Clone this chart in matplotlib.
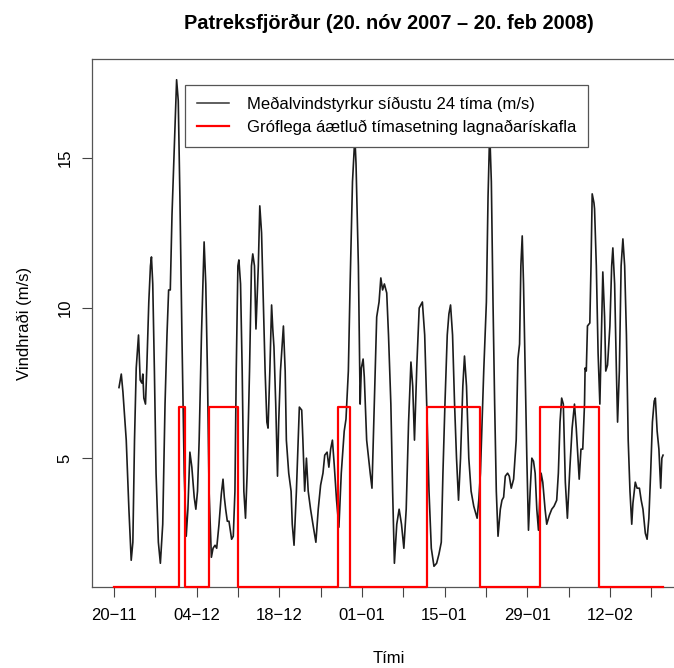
import numpy as np
import matplotlib
matplotlib.use("Agg")
import matplotlib.pyplot as plt
import matplotlib.dates as mdates
from matplotlib.lines import Line2D

plt.rcParams['font.family'] = ['Liberation Sans', 'DejaVu Sans']

# ---------------- data ----------------
start_date = np.datetime64('2007-11-20T00:00')

# 24h mean wind speed (m/s); time in days after 20 Nov 2007
wind_days = [0.85, 1.24, 1.52, 2.08, 2.53, 2.92, 3.20, 3.48, 3.77, 4.16, 4.44, 4.72, 4.89, 5.06,
             5.34, 5.56, 5.90, 6.18, 6.35, 6.57, 6.85, 7.13, 7.52, 7.86, 8.26, 8.65, 8.98, 9.26,
             9.54, 9.83, 10.22, 10.61, 10.89, 11.17, 11.51, 11.90, 12.24, 12.52, 12.86, 13.19,
             13.59, 13.87, 14.15, 14.43, 14.82, 15.27, 15.55, 15.83, 16.11, 16.50, 16.78, 17.12,
             17.40, 17.79, 18.18, 18.47, 18.69, 18.92, 19.20, 19.48, 19.93, 20.21, 20.49, 20.71,
             20.99, 21.16, 21.44, 21.72, 22.00, 22.28, 22.56, 22.96, 23.29, 23.51, 23.80, 24.05,
             24.45, 24.70,
             25.0, 25.3, 25.6, 25.9, 26.1, 26.4, 26.7, 26.9, 27.1, 27.4, 27.7, 27.9, 28.2, 28.7,
             29.0, 29.2, 29.6, 30.0, 30.2, 30.5, 30.9, 31.4, 31.8, 32.0, 32.3, 32.6, 32.9, 33.3,
             33.7, 34.2, 34.6, 35.0, 35.4, 35.7, 36.1, 36.4, 36.7, 37.0, 37.3, 37.7, 38.1, 38.5,
             39.0, 39.3, 39.7, 40.0, 40.4, 40.8, 41.0, 41.4, 41.7, 41.9, 42.2, 42.4, 42.8, 43.4,
             43.7, 44.1, 44.5, 44.9, 45.2, 45.5, 45.8, 46.2, 46.5, 46.9, 47.2, 47.5, 47.9, 48.3,
             48.7, 49.1, 49.5, 49.9, 50.3, 50.6, 50.9, 51.3, 51.7,
             52.24, 52.63, 52.97, 53.36, 53.75, 54.20, 54.65, 55.04, 55.44, 55.72, 56.06, 56.45,
             56.73, 57.01, 57.35, 57.69, 58.02, 58.36, 58.70, 59.09, 59.37, 59.71, 60.10, 60.49,
             60.94, 61.22, 61.51, 61.79, 62.07, 62.63, 63.08, 63.36, 63.64, 63.92, 64.20, 64.48,
             64.76, 65.05, 65.44, 65.72, 66.00, 66.28, 66.67, 66.96, 67.29, 67.69, 68.13, 68.42,
             68.70, 68.92, 69.15, 69.37, 69.65, 69.93, 70.21, 70.49, 70.78, 71.06, 71.34, 71.62,
             71.90, 72.18, 72.35, 72.63, 73.02, 73.30, 73.75, 74.15, 74.54, 74.99, 75.27, 75.55,
             75.83, 76.11, 76.45, 76.80, 77.20, 77.60, 78.00, 78.30, 78.80,
             79.1, 79.4, 79.7, 79.8, 80.0, 80.2, 80.6, 80.8, 81.0, 81.3, 81.4, 81.7, 82.0, 82.3,
             82.5, 82.8, 83.1, 83.3, 83.6, 84.0, 84.3, 84.5, 84.8, 85.1, 85.3, 85.6, 85.9, 86.2,
             86.5, 86.8, 87.1, 87.4, 87.7, 87.9, 88.3, 88.6, 89.0, 89.3, 89.6, 90.0, 90.3, 90.6,
             90.9, 91.2, 91.5, 91.7, 92.0, 92.3, 92.6, 92.8, 93.0]

wind_speed = [7.35, 7.8, 7.2, 5.6, 3.3, 1.6, 2.2, 5.6, 8.0, 9.1, 7.6, 7.5, 7.8, 7.0,
              6.8, 8.0, 10.2, 11.4, 11.7, 10.8, 7.9, 4.5, 2.2, 1.5, 2.8, 6.8, 9.1, 10.6,
              10.6, 13.1, 15.4, 17.6, 16.9, 13.7, 9.1, 4.5, 2.4, 3.3, 5.2, 4.7,
              3.7, 3.3, 3.9, 5.6, 9.1, 12.2, 10.8, 7.9, 3.9, 1.7, 2.0, 2.1,
              2.0, 2.8, 3.8, 4.3, 3.7, 3.3, 2.9, 2.9, 2.3, 2.4, 3.9, 7.9,
              11.4, 11.6, 10.8, 7.9, 3.9, 3.0, 4.5, 7.9, 11.4, 11.8, 11.4, 9.3,
              11.4, 13.4,
              12.5, 10.2, 7.9, 6.2, 6.0, 7.9, 10.1, 9.3, 8.7, 6.8, 4.4, 6.2, 7.9, 9.4,
              7.9, 5.6, 4.5, 3.9, 2.8, 2.1, 3.9, 6.7, 6.6, 5.6, 3.9, 5.0, 3.9, 3.3,
              2.8, 2.2, 3.3, 4.1, 4.5, 5.1, 5.2, 4.7, 5.3, 5.6, 4.8, 3.6, 2.7, 4.5,
              5.9, 6.3, 7.9, 10.8, 14.2, 15.7, 14.8, 11.4, 6.8, 8.0, 8.3, 7.7, 5.6, 4.5,
              4.0, 6.8, 9.7, 10.2, 11.0, 10.6, 10.8, 10.5, 9.1, 6.8, 3.9, 1.5, 2.8, 3.3,
              2.8, 2.0, 3.3, 6.2, 8.2, 7.4, 5.6, 8.1, 10.0,
              10.2, 9.1, 6.8, 3.9, 2.0, 1.4, 1.5, 1.8, 2.2, 4.5, 6.8, 9.1,
              9.8, 10.1, 9.1, 6.8, 5.0, 3.6, 5.0, 7.4, 8.4, 7.4, 5.0, 3.9,
              3.4, 3.2, 3.0, 3.6, 4.5, 7.9, 10.2, 13.7, 15.9, 14.2, 10.2, 6.8,
              3.9, 2.4, 3.3, 3.6, 3.7, 4.4, 4.5, 4.4, 4.0, 4.3, 5.6, 8.3,
              8.8, 11.4, 12.4, 10.8, 7.9, 5.0, 2.6, 3.9, 5.0, 4.9, 4.5, 3.3,
              2.6, 3.9, 4.5, 4.2, 3.3, 2.8, 3.1, 3.3, 3.4, 3.6, 4.5, 6.2,
              7.0, 6.8, 4.2, 3.0, 4.6, 6.0, 6.8, 6.0, 4.3,
              5.3, 5.3, 6.8, 8.0, 7.9, 9.4, 9.5, 11.4, 13.8, 13.5, 13.3, 11.4, 8.5, 6.8,
              8.5, 11.2, 9.7, 7.9, 8.1, 9.4, 11.4, 12.0, 10.8, 7.9, 6.2, 7.9, 11.4, 12.3,
              11.4, 9.1, 5.6, 3.9, 2.8, 3.5, 4.2, 4.0, 4.0, 3.6, 3.3, 2.5, 2.3, 3.0,
              4.5, 6.2, 6.9, 7.0, 5.9, 5.3, 4.0, 5.0, 5.1]

# rough timing of frazil-ice periods (step function)
ice_days = [0.0, 11.0, 12.1, 16.1, 21.05, 38.0, 39.9, 53.0, 62.0, 72.1, 82.1, 93.0]
ice_level = [0.7, 6.7, 0.7, 6.7, 0.7, 6.7, 0.7, 6.7, 0.7, 6.7, 0.7, 0.7]

major_tick_dates = ['2007-11-20', '2007-12-04', '2007-12-18', '2008-01-01',
                    '2008-01-15', '2008-01-29', '2008-02-12']
minor_tick_dates = ['2007-11-27', '2007-12-11', '2007-12-25', '2008-01-08',
                    '2008-01-22', '2008-02-05', '2008-02-19']
y_ticks = [5, 10, 15]

title = 'Patreksfjörður (20. nóv 2007 – 20. feb 2008)'
xlabel = 'Tími'
ylabel = 'Vindhraði (m/s)'
legend_labels = ['Meðalvindstyrkur síðustu 24 tíma (m/s)',
                 'Gróflega áætluð tímasetning lagnaðarískafla']


def to_time(days):
    secs = np.round(np.asarray(days, dtype=float) * 86400).astype('int64')
    return start_date + secs.astype('timedelta64[s]')


# ---------------- figure ----------------
W, H = 674, 668
fig = plt.figure(figsize=(W / 100, H / 100), dpi=100)
left, right, top, bottom = 92, 685, 59.3, 587.3
ax = fig.add_axes([left / W, 1 - bottom / H, (right - left) / W, (bottom - top) / H])

ax.plot(to_time(wind_days), wind_speed, color='#1c1c1c', lw=1.2, zorder=3,
        solid_joinstyle='round')
ax.plot(to_time(ice_days), ice_level, color='#ff0000', lw=1.6, drawstyle='steps-post',
        zorder=4, clip_on=False)

ax.set_xlim(to_time([-3.72])[0], to_time([96.72])[0])
ax.set_ylim(0.7, 18.28)

ax.set_xticks(np.array(major_tick_dates, dtype='datetime64[s]'))
ax.set_xticks(np.array(minor_tick_dates, dtype='datetime64[s]'), minor=True)
ax.xaxis.set_major_formatter(mdates.DateFormatter('%d\u2212%m'))
ax.set_yticks(y_ticks)
ax.set_yticklabels([str(v) for v in y_ticks], rotation=90, va='center')

ax.tick_params(axis='both', which='both', direction='out', length=7.2, width=0.8,
               color='#444444', labelsize=12)
ax.tick_params(axis='x', which='both', pad=8)
ax.tick_params(axis='y', which='both', pad=7)

for s in ax.spines.values():
    s.set_color('#555555')
    s.set_linewidth(0.9)
ax.spines['right'].set_visible(False)

ax.set_title(title, fontsize=14.4, fontweight='bold', pad=22)
ax.set_xlabel(xlabel, fontsize=12, labelpad=20)
ax.set_ylabel(ylabel, fontsize=12, labelpad=18)

handles = [Line2D([], [], color='#333333', lw=1.1),
           Line2D([], [], color='#ff0000', lw=1.6)]
leg = ax.legend(handles, legend_labels, loc='upper left',
                bbox_to_anchor=(185 / W, 1 - 84.8 / H), bbox_transform=fig.transFigure,
                borderaxespad=0, fontsize=12, frameon=True, fancybox=False,
                edgecolor='#555555', framealpha=1, borderpad=0.72, handlelength=1.9,
                handletextpad=1.1, labelspacing=0.46)
leg.get_frame().set_linewidth(0.9)

fig.savefig('out.png', dpi=100)
